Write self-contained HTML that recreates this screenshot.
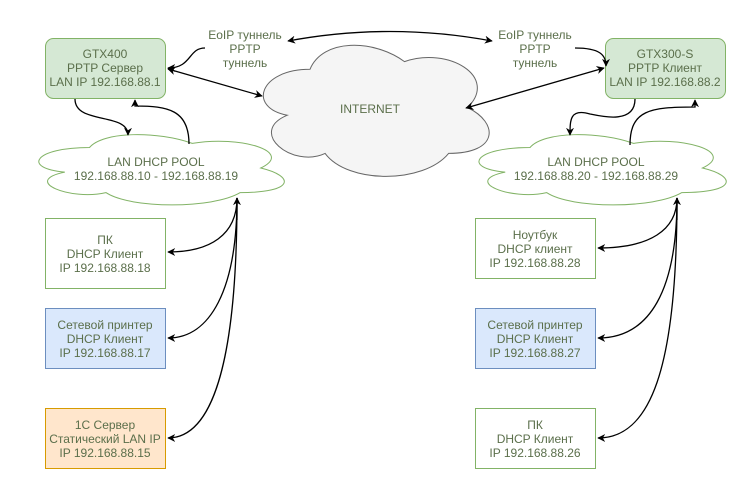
<!DOCTYPE html>
<html><head><meta charset="utf-8"><style>
html,body{margin:0;padding:0;background:#fff;}
svg{display:block;}
text{font-family:"Liberation Sans",sans-serif;font-size:12px;fill:#5b6f4b;text-anchor:middle;}
</style></head><body>
<svg width="751" height="489" viewBox="0 0 751 489" xmlns="http://www.w3.org/2000/svg">
<defs>
<marker id="a" viewBox="0 0 10 10" refX="9" refY="5" markerWidth="8" markerHeight="8" orient="auto-start-reverse" markerUnits="userSpaceOnUse">
<path d="M0,0 L10,5 L0,10 L3,5 Z" fill="#000"/>
</marker>
</defs>

<!-- clouds -->
<path d="M310,69.3 C259.6,69.3 247,107.5 287.3,115.2 C247,132 292.4,168.7 325.1,153.4 C347.8,184 423.4,184 448.6,153.4 C499,153.4 499,122.8 467.5,107.5 C499,76.9 448.6,46.3 404.5,61.6 C373,38.7 322.6,38.7 310,69.3 Z" fill="#f5f5f5" stroke="#666" stroke-width="1"/>
<path d="M89.5,147.5 C34.7,147.5 21,168 64.8,172.1 C21,181.1 70.3,200.8 105.9,192.6 C130.6,209 212.8,209 240.2,192.6 C295,192.6 295,176.2 260.75,168 C295,151.6 240.2,135.2 192.25,143.4 C158,131.1 103.2,131.1 89.5,147.5 Z" fill="#fff" stroke="#82b366"/>
<path d="M530,147.5 C474.8,147.5 461,168 505.2,172.1 C461,181.1 510.7,200.8 546.6,192.6 C571.4,209 654.2,209 681.8,192.6 C737,192.6 737,176.2 702.5,168 C737,151.6 681.8,135.2 633.5,143.4 C599,131.1 543.8,131.1 530,147.5 Z" fill="#fff" stroke="#82b366"/>

<!-- boxes -->
<rect x="45.5" y="38.5" width="120" height="60" rx="8" fill="#d5e8d4" stroke="#82b366"/>
<rect x="605.5" y="38.5" width="120" height="60" rx="8" fill="#d5e8d4" stroke="#82b366"/>
<rect x="45.5" y="218.5" width="120" height="70" fill="#fff" stroke="#82b366"/>
<rect x="45.5" y="308.5" width="120" height="60" fill="#dae8fc" stroke="#6c8ebf"/>
<rect x="45.5" y="408.5" width="120" height="60" fill="#ffe6cc" stroke="#d79b00"/>
<rect x="475.5" y="218.5" width="120" height="60" fill="#fff" stroke="#82b366"/>
<rect x="475.5" y="308.5" width="120" height="60" fill="#dae8fc" stroke="#6c8ebf"/>
<rect x="475.5" y="408.5" width="120" height="60" fill="#fff" stroke="#82b366"/>

<!-- connectors -->
<g fill="none" stroke="#000" stroke-width="1.3">
<path d="M288,41 Q390,22 492,41" marker-start="url(#a)" marker-end="url(#a)"/>
<path d="M168,69 L262,96" marker-start="url(#a)" marker-end="url(#a)"/>
<path d="M466,108 L604,68" marker-start="url(#a)" marker-end="url(#a)"/>
<path d="M205,48 C188,48 192,68 168,68" marker-end="url(#a)"/>
<path d="M575,48 C600,48 606,55 606,66" marker-end="url(#a)"/>
<path d="M75,99 C75,125 128,112 128,135" marker-end="url(#a)"/>
<path d="M189,144 C189,110 168,106 135,106 L135,100" marker-end="url(#a)"/>
<path d="M635,99 C635,125 600,116 590,114 C570,108 570,120 570,135" marker-end="url(#a)"/>
<path d="M630,145 C630,110 650,107 695,107 L695,100" marker-end="url(#a)"/>
<path d="M237,220 L237,198" marker-end="url(#a)"/>
<path d="M237,198 C237,235 210,252 168,252" marker-end="url(#a)"/>
<path d="M237,198 C237,290 210,338 168,338" marker-end="url(#a)"/>
<path d="M237,198 C237,370 210,438 168,438" marker-end="url(#a)"/>
<path d="M677,220 L677,198" marker-end="url(#a)"/>
<path d="M677,198 C677,230 650,248 598,248" marker-end="url(#a)"/>
<path d="M677,198 C677,290 650,338 598,338" marker-end="url(#a)"/>
<path d="M677,198 C677,370 650,438 598,438" marker-end="url(#a)"/>
</g>

<!-- labels -->
<text x="245" y="39">EoIP туннель</text><text x="245" y="53">PPTP</text><text x="245" y="67">туннель</text>
<text x="535" y="39">EoIP туннель</text><text x="535" y="53">PPTP</text><text x="535" y="67">туннель</text>
<text x="370" y="113">INTERNET</text>
<text x="105" y="58">GTX400</text><text x="105" y="72">PPTP Сервер</text><text x="105" y="86">LAN IP 192.168.88.1</text>
<text x="665" y="58">GTX300-S</text><text x="665" y="72">PPTP Клиент</text><text x="665" y="86">LAN IP 192.168.88.2</text>
<text x="156" y="166">LAN DHCP POOL</text><text x="156" y="180">192.168.88.10 - 192.168.88.19</text>
<text x="596" y="166">LAN DHCP POOL</text><text x="596" y="180">192.168.88.20 - 192.168.88.29</text>
<text x="105" y="244">ПК</text><text x="105" y="258">DHCP Клиент</text><text x="105" y="272">IP 192.168.88.18</text>
<text x="105" y="329">Сетевой принтер</text><text x="105" y="343">DHCP Клиент</text><text x="105" y="357">IP 192.168.88.17</text>
<text x="105" y="429">1С Сервер</text><text x="105" y="443">Статический LAN IP</text><text x="105" y="457">IP 192.168.88.15</text>
<text x="535" y="239">Ноутбук</text><text x="535" y="253">DHCP клиент</text><text x="535" y="267">IP 192.168.88.28</text>
<text x="535" y="329">Сетевой принтер</text><text x="535" y="343">DHCP Клиент</text><text x="535" y="357">IP 192.168.88.27</text>
<text x="535" y="429">ПК</text><text x="535" y="443">DHCP Клиент</text><text x="535" y="457">IP 192.168.88.26</text>
</svg>
</body></html>
